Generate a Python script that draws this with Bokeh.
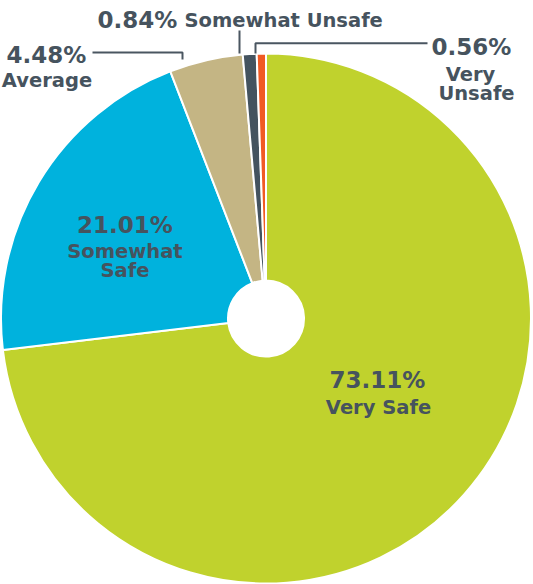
import numpy as np
from bokeh.plotting import figure
from bokeh.models import ColumnDataSource, Range1d
from bokeh.core.properties import value
from bokeh.embed import file_html
from bokeh.resources import INLINE

# ---- data ----
categories = ["Very Safe", "Somewhat Safe", "Average", "Somewhat Unsafe", "Very Unsafe"]
percents = [73.11, 21.01, 4.48, 0.84, 0.56]
colors = ["#C0D22D", "#00B2DD", "#C4B584", "#44535F", "#F15A24"]
pct_labels = ["73.11%", "21.01%", "4.48%", "0.84%", "0.56%"]

# ---- layout (page pixel coords -> data coords) ----
W, H = 533, 584
def X(px):
    return px
def Y(py):
    return H - py

TEXT = "#46535E"
FONT = "DejaVu Sans"

p = figure(width=W, height=H, output_backend="svg", toolbar_location=None,
           x_range=Range1d(0, W), y_range=Range1d(0, H),
           min_border=0, outline_line_color=None)
p.axis.visible = False
p.grid.visible = False
p.background_fill_color = "white"
p.border_fill_color = "white"

vals = np.array(percents) / 100.0
cum = np.concatenate([[0], np.cumsum(vals)])
start = np.pi / 2 - 2 * np.pi * cum[:-1]
end = np.pi / 2 - 2 * np.pi * cum[1:]
src = ColumnDataSource(dict(start=start, end=end, color=colors, cat=categories))

cx, cy = X(265.5), Y(318)
p.annular_wedge(x=cx, y=cy, inner_radius=38, outer_radius=265,
                start_angle="start", end_angle="end", direction="clock",
                fill_color="color", line_color="white", line_width=2, source=src)

# leader lines
lc = "#4A5661"
p.line([X(92), X(182), X(182)], [Y(52), Y(52), Y(59)], line_color=lc, line_width=2)
p.line([X(239), X(239)], [Y(30), Y(53)], line_color=lc, line_width=2)
p.line([X(427), X(255), X(255)], [Y(42.7), Y(42.7), Y(53)], line_color=lc, line_width=2)

def txt(x, y, s, size, align="center"):
    p.text(x=[X(x)], y=[Y(y)], text=[s], text_font=value(FONT), text_font_style="bold",
           text_font_size=f"{size}px", text_color=TEXT, text_align=align,
           text_baseline="middle")

NUM, LAB = 23, 19.5
# Very Safe
txt(377, 379, pct_labels[0], NUM)
txt(378, 407, categories[0], LAB)
# Somewhat Safe
txt(124.5, 224, pct_labels[1], NUM)
txt(124.5, 251, "Somewhat", LAB)
txt(124.5, 270, "Safe", LAB)
# Average
txt(46, 54, pct_labels[2], NUM)
txt(46.5, 80, categories[2], LAB)
# Somewhat Unsafe
txt(137, 19, pct_labels[3], NUM)
txt(184, 20, categories[3], LAB, align="left")
# Very Unsafe
txt(471, 46, pct_labels[4], NUM)
txt(470, 74, "Very", LAB)
txt(476, 93, "Unsafe", LAB)

open("out.html", "w").write(file_html(p, INLINE))
